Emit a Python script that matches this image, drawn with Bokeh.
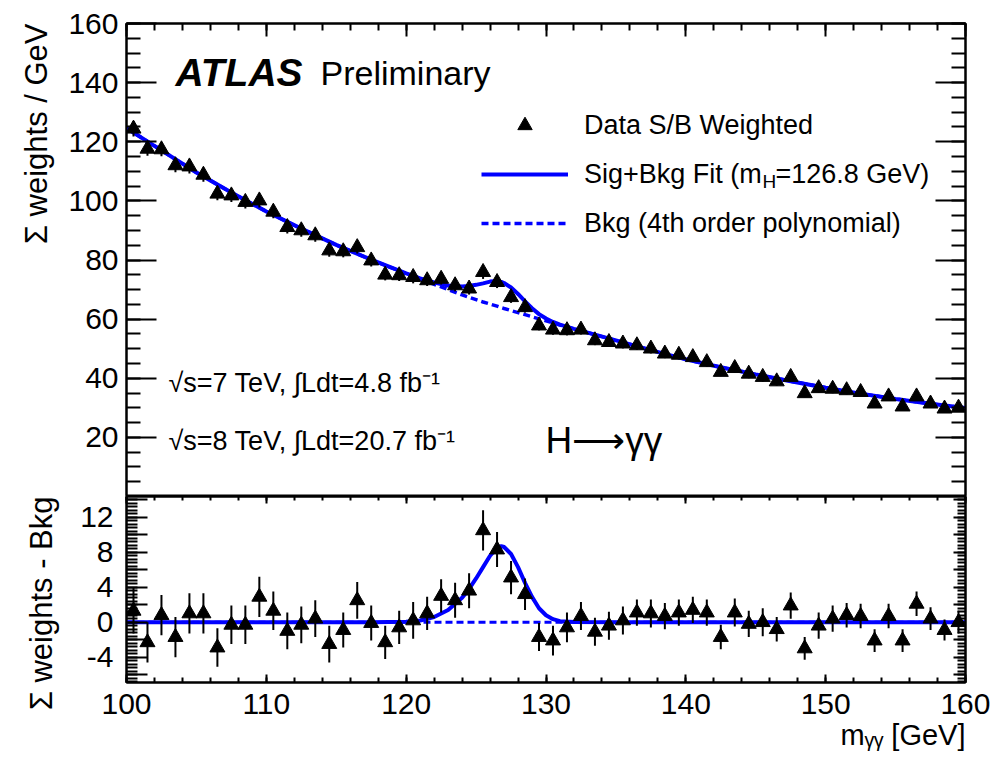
import math
from bokeh.plotting import figure
from bokeh.layouts import column
from bokeh.models import Range1d, FixedTicker, LinearAxis, Label, Legend, LegendItem, Title
from bokeh.embed import file_html
from bokeh.resources import INLINE

FONT = "Liberation Sans"
BLUE = "#0000ff"

# ---- data ----
mass = [100.5, 101.5, 102.5, 103.5, 104.5, 105.5, 106.5, 107.5, 108.5, 109.5,
        110.5, 111.5, 112.5, 113.5, 114.5, 115.5, 116.5, 117.5, 118.5, 119.5,
        120.5, 121.5, 122.5, 123.5, 124.5, 125.5, 126.5, 127.5, 128.5, 129.5,
        130.5, 131.5, 132.5, 133.5, 134.5, 135.5, 136.5, 137.5, 138.5, 139.5,
        140.5, 141.5, 142.5, 143.5, 144.5, 145.5, 146.5, 147.5, 148.5, 149.5,
        150.5, 151.5, 152.5, 153.5, 154.5, 155.5, 156.5, 157.5, 158.5, 159.5]

weights = [124.4, 117.6, 117.4, 112.0, 111.6, 108.8, 102.4, 101.8, 99.6, 100.1,
           96.3, 91.1, 90.0, 88.3, 83.2, 82.9, 84.3, 79.8, 75.0, 74.8,
           74.2, 73.1, 73.6, 71.4, 70.3, 75.9, 72.5, 67.4, 64.0, 57.8,
           56.4, 56.2, 56.4, 52.8, 52.2, 51.7, 51.1, 50.0, 48.3, 47.9,
           47.1, 45.4, 42.1, 43.4, 41.5, 40.4, 38.9, 40.4, 34.9, 36.6,
           36.4, 35.9, 35.3, 31.4, 33.8, 30.4, 33.8, 31.4, 29.7, 30.0]

residual = [1.3, -2.3, 0.8, -1.7, 1.0, 1.0, -2.9, -0.3, -0.3, 2.9,
            1.3, -1.0, -0.3, 0.4, -2.5, -0.9, 2.5, -0.1, -2.3, -0.6,
            0.2, 1.0, 3.0, 2.5, 3.6, 10.5, 8.3, 5.1, 3.2, -1.7,
            -2.1, -0.6, 0.7, -1.1, -0.4, 0.2, 1.1, 1.0, 0.7, 1.1,
            1.4, 1.1, -1.7, 1.1, -0.2, 0.0, -0.8, 1.9, -3.0, -0.4,
            0.4, 0.8, 0.7, -2.1, 0.7, -2.1, 2.1, 0.4, -0.9, 0.0]

errors = [2.6, 2.3, 2.3, 2.3, 2.3, 2.3, 2.2, 2.2, 2.2, 2.3,
          2.2, 2.1, 2.1, 2.1, 2.1, 2.0, 2.1, 2.0, 1.9, 1.9,
          2.1, 1.9, 1.9, 2.0, 2.0, 2.3, 2.0, 1.9, 1.8, 1.6,
          1.7, 1.7, 1.6, 1.6, 1.6, 1.6, 1.5, 1.6, 1.5, 1.5,
          1.5, 1.5, 1.4, 1.6, 1.5, 1.6, 1.4, 1.5, 1.3, 1.5,
          1.5, 1.4, 1.4, 1.3, 1.4, 1.3, 1.4, 1.3, 1.2, 1.3]

curve_mass = [100, 102.5, 105, 107.5, 110, 112.5, 115, 117.5, 120, 121, 122, 123, 124,
              124.5, 125, 125.5, 126, 126.5, 126.8, 127, 127.5, 128, 128.5, 129, 129.5,
              130, 130.5, 131, 132, 135, 137.5, 140, 142.5, 145, 147.5, 150, 152.5,
              155, 157.5, 160]
bkg_curve = [124.6, 117.1, 109.6, 102.8, 96.4, 90.6, 85.1, 80.1, 75.4, 73.6, 71.8, 70.0, 68.2,
             67.4, 66.6, 65.8, 65.1, 64.4, 63.9, 63.6, 62.9, 62.2, 61.5, 60.8, 60.1,
             59.4, 58.7, 58.0, 56.7, 52.8, 49.5, 46.4, 43.7, 41.3, 39.0, 36.8, 34.8,
             33.0, 31.4, 29.9]
sig_curve = [0, 0, 0, 0, 0, 0, 0, 0, 0.05, 0.2, 0.6, 1.4, 2.8,
             3.8, 5.0, 6.3, 7.6, 8.5, 8.7, 8.6, 7.8, 6.3, 4.5, 2.9, 1.6,
             0.8, 0.35, 0.12, 0.02, 0, 0, 0, 0, 0, 0, 0, 0,
             0, 0, 0]

x_major = [100, 110, 120, 130, 140, 150, 160]
x_minor = list(range(100, 161, 2))
top_y_major = [20, 40, 60, 80, 100, 120, 140, 160]
top_y_minor = list(range(0, 161, 5))
bot_y_major = [-6, -4, -2, 0, 2, 4, 6, 8, 10, 12, 14]
bot_y_labels = {-6: "", -4: "-4", -2: "", 0: "0", 2: "", 4: "4", 6: "", 8: "8", 10: "", 12: "12", 14: ""}
bot_y_minor = [round(-6.8 + 0.4 * i, 2) for i in range(54)]

sigbkg_curve = [b + s for b, s in zip(bkg_curve, sig_curve)]
zero_curve = [0.0 for _ in curve_mass]
lo_top = [w - e for w, e in zip(weights, errors)]
hi_top = [w + e for w, e in zip(weights, errors)]
lo_bot = [r - e for r, e in zip(residual, errors)]
hi_bot = [r + e for r, e in zip(residual, errors)]

# ---- layout (page pixels) ----
W = 990
FL, FR = 126, 965          # frame left / right
TOP_T, MID, BOT_B = 23, 496, 682
xr = Range1d(100, 160)


def style_axis(ax, ticks, minor, major_in, minor_in, labels=True, size="30px", standoff=8, overrides=None):
    ax.ticker = FixedTicker(ticks=ticks, minor_ticks=minor)
    ax.major_tick_in = major_in
    ax.major_tick_out = 0
    ax.minor_tick_in = minor_in
    ax.minor_tick_out = 0
    ax.major_tick_line_width = 2
    ax.minor_tick_line_width = 2
    ax.major_tick_line_color = "black"
    ax.minor_tick_line_color = "black"
    ax.axis_line_width = 2
    ax.axis_line_color = "black"
    if labels:
        ax.major_label_text_font = FONT
        ax.major_label_text_font_size = size
        ax.major_label_text_color = "black"
        ax.major_label_standoff = standoff
        if overrides:
            ax.major_label_overrides = overrides
    else:
        ax.major_label_text_font_size = "0px"
        ax.major_label_text_color = None
        ax.major_label_standoff = 0


def black_label(**kw):
    kw.setdefault("text_font", FONT)
    kw.setdefault("text_color", "black")
    kw.setdefault("text_baseline", "middle")
    return Label(**kw)


p1 = figure(width=W, height=MID, x_range=xr, y_range=Range1d(0, 160),
            output_backend="svg", toolbar_location=None, x_axis_location="above",
            min_border_left=FL, min_border_right=W - FR, min_border_top=TOP_T, min_border_bottom=0)
p1.grid.visible = False
p1.outline_line_color = "black"
p1.outline_line_width = 2

style_axis(p1.xaxis[0], x_major, x_minor, 13, 7, labels=False)
style_axis(p1.yaxis[0], top_y_major, top_y_minor, 30, 14, labels=True, standoff=8)
ry1 = LinearAxis()
style_axis(ry1, top_y_major, top_y_minor, 30, 14, labels=False)
p1.add_layout(ry1, "right")
p1.add_layout(Title(text="\u03a3 weights / GeV", align="right", text_font=FONT, text_font_size="31px",
                    text_font_style="normal", text_color="black", standoff=23), "left")

r_bkg = p1.line(curve_mass, bkg_curve, line_color=BLUE, line_width=3.5, line_dash="7 4")
r_sb = p1.line(curve_mass, sigbkg_curve, line_color=BLUE, line_width=4)
p1.segment(x0=mass, y0=lo_top, x1=mass, y1=hi_top, line_color="black", line_width=2)
r_pts = p1.scatter(mass, weights, marker="triangle", size=15, fill_color="black", line_color="black")

leg = Legend(items=[LegendItem(label="Data S/B Weighted", renderers=[r_pts]),
                    LegendItem(label="Sig+Bkg Fit (m", renderers=[r_sb]),
                    LegendItem(label="Bkg (4th order polynomial)", renderers=[r_bkg])],
             location=(355, 255), glyph_width=87, glyph_height=36, label_height=36,
             spacing=13, padding=0, margin=0, label_standoff=16,
             border_line_color=None, background_fill_alpha=0,
             label_text_font=FONT, label_text_font_size="27px", label_text_color="black")
p1.add_layout(leg)

PXX = (FR - FL) / 60.0
PXY = (MID - TOP_T) / 160.0


def gx(px):
    return 100 + (px - FL) / PXX


def gy1(py):
    return (MID - py) / PXY


p1.add_layout(black_label(x=gx(762), y=gy1(181), text="H", text_font_size="19px"))
p1.add_layout(black_label(x=gx(775), y=gy1(173), text="=126.8 GeV)", text_font_size="27px"))
p1.add_layout(black_label(x=gx(175), y=gy1(72), text="ATLAS", text_font_size="39px",
                          text_font_style="bold italic"))
p1.add_layout(black_label(x=gx(320), y=gy1(72), text="Preliminary", text_font_size="34px"))
p1.add_layout(black_label(x=gx(168), y=gy1(382), text="\u221as=7 TeV, \u222bLdt=4.8 fb\u207b\u00b9",
                          text_font_size="27px"))
p1.add_layout(black_label(x=gx(168), y=gy1(440), text="\u221as=8 TeV, \u222bLdt=20.7 fb\u207b\u00b9",
                          text_font_size="27px"))
p1.add_layout(black_label(x=gx(545), y=gy1(440), text="H\u27f6\u03b3\u03b3", text_font_size="37px"))

# ---- lower panel ----
H2 = 760 - MID - 2
p2 = figure(width=W, height=H2, x_range=xr, y_range=Range1d(-6.89, 14.37),
            output_backend="svg", toolbar_location=None,
            min_border_left=FL, min_border_right=W - FR, min_border_top=0,
            min_border_bottom=H2 - (BOT_B - MID))
p2.grid.visible = False
p2.outline_line_color = "black"
p2.outline_line_width = 2

style_axis(p2.xaxis[0], x_major, x_minor, 8, 5, labels=True, standoff=11)
style_axis(p2.yaxis[0], bot_y_major, bot_y_minor, 21, 11, labels=True, standoff=13, overrides=bot_y_labels)
ax2 = LinearAxis()
style_axis(ax2, x_major, x_minor, 7, 4, labels=False)
p2.add_layout(ax2, "above")
ry2 = LinearAxis()
style_axis(ry2, bot_y_major, bot_y_minor, 12, 8, labels=False)
p2.add_layout(ry2, "right")
p2.add_layout(Title(text="\u03a3 weights - Bkg", align="right", text_font=FONT, text_font_size="31px",
                    text_font_style="normal", text_color="black", standoff=37), "left")
p2.add_layout(Title(text="m\u1d67\u1d67 [GeV]", align="right", text_font=FONT, text_font_size="29px",
                    text_font_style="normal", text_color="black", standoff=0), "below")

p2.line(curve_mass, zero_curve, line_color=BLUE, line_width=3, line_dash="7 4")
p2.line(curve_mass, sig_curve, line_color=BLUE, line_width=4)
p2.segment(x0=mass, y0=lo_bot, x1=mass, y1=hi_bot, line_color="black", line_width=2)
p2.scatter(mass, residual, marker="triangle", size=15, fill_color="black", line_color="black")

layout = column(p1, p2, spacing=0)
open("out.html", "w").write(file_html(layout, INLINE))
